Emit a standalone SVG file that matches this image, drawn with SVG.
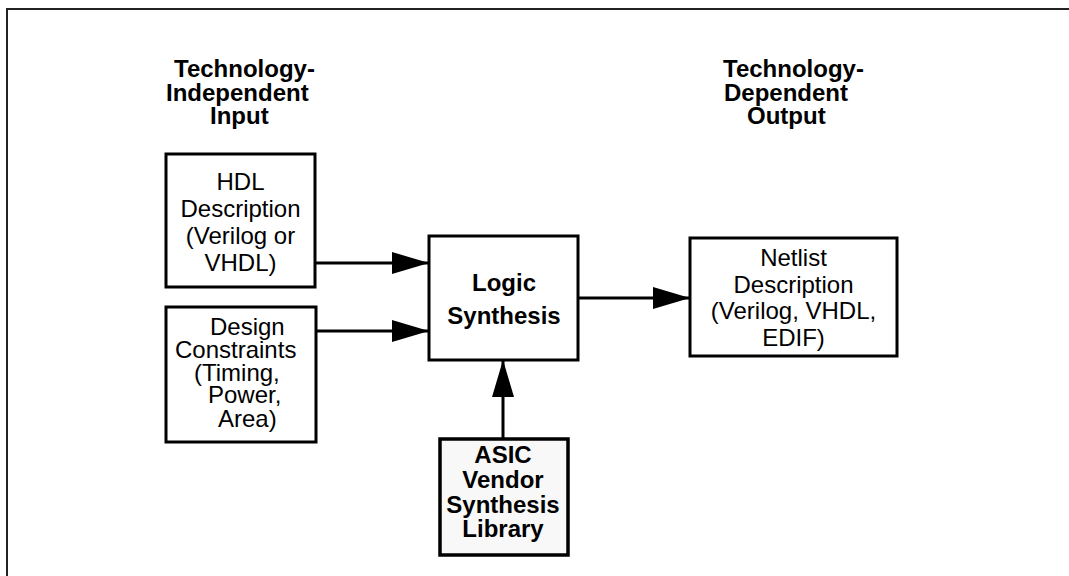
<svg xmlns="http://www.w3.org/2000/svg" width="1069" height="576" viewBox="0 0 1069 576">
<style>
.box{fill:#fff;stroke:#000;stroke-width:3}
.lib{fill:#f8f8f8;stroke:#000;stroke-width:3.5}
.t{font-family:"Liberation Sans",Arial,sans-serif;font-size:24px;fill:#000}
.b{font-weight:bold}
.m{text-anchor:middle}
.c{stroke:#000;stroke-width:3;fill:none}
</style>
<defs>
<marker id="ah" markerUnits="userSpaceOnUse" markerWidth="40" markerHeight="24" refX="37" refY="11" orient="auto">
<path d="M0,0 L37,11 L0,22 Z" fill="#000"/>
</marker>
</defs>
<rect width="1069" height="576" fill="#fff"/>
<path d="M7,576 V9 H1069" fill="none" stroke="#222" stroke-width="2"/>
<g id="hdr-in">
<text class="t b" x="174" y="77">Technology-</text>
<text class="t b" x="166" y="101">Independent</text>
<text class="t b" x="210" y="124">Input</text>
</g>
<g id="hdr-out">
<text class="t b" x="723" y="77">Technology-</text>
<text class="t b" x="724" y="101">Dependent</text>
<text class="t b" x="747" y="124">Output</text>
</g>
<g id="connectors">
<line class="c" x1="316" y1="263" x2="429" y2="263" marker-end="url(#ah)"/>
<line class="c" x1="316" y1="331" x2="429" y2="331" marker-end="url(#ah)"/>
<line class="c" x1="578" y1="298" x2="690" y2="298" marker-end="url(#ah)"/>
<line class="c" x1="503" y1="439" x2="503" y2="360" marker-end="url(#ah)"/>
</g>
<g id="hdl">
<rect class="box" x="166" y="154" width="149" height="133"/>
<text class="t m" x="240.5" y="190">HDL</text>
<text class="t m" x="240.5" y="217">Description</text>
<text class="t m" x="240.5" y="244">(Verilog or</text>
<text class="t m" x="240.5" y="271">VHDL)</text>
</g>
<g id="constraints">
<rect class="box" x="166" y="307" width="150" height="135"/>
<text class="t" x="210" y="335">Design</text>
<text class="t" x="175" y="358">Constraints</text>
<text class="t" x="194" y="381">(Timing,</text>
<text class="t" x="208" y="403">Power,</text>
<text class="t" x="218" y="427">Area)</text>
</g>
<g id="logic">
<rect class="box" x="429" y="236" width="149" height="124"/>
<text class="t b m" x="504" y="291">Logic</text>
<text class="t b m" x="504" y="324">Synthesis</text>
</g>
<g id="netlist">
<rect class="box" x="690" y="238" width="207" height="118"/>
<text class="t m" x="793.5" y="266">Netlist</text>
<text class="t m" x="793.5" y="293">Description</text>
<text class="t m" x="793.5" y="319">(Verilog, VHDL,</text>
<text class="t m" x="793.5" y="346">EDIF)</text>
</g>
<g id="library">
<rect class="lib" x="440" y="439" width="128" height="116"/>
<text class="t b m" x="503" y="463">ASIC</text>
<text class="t b m" x="503" y="488">Vendor</text>
<text class="t b m" x="503" y="513">Synthesis</text>
<text class="t b m" x="503" y="537">Library</text>
</g>
</svg>
